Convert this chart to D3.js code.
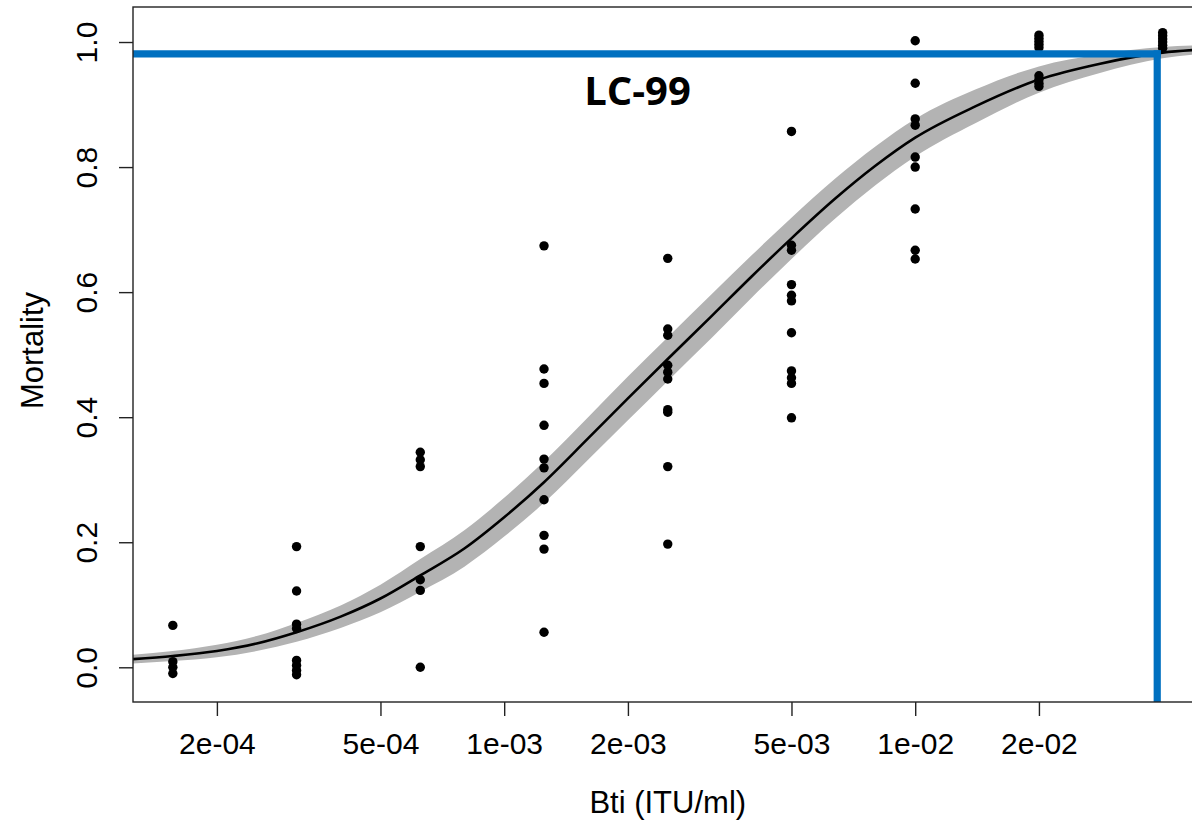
<!DOCTYPE html>
<html>
<head>
<meta charset="utf-8">
<script src="https://cdn.jsdelivr.net/npm/d3@7"></script>
<style>
  html, body { margin: 0; padding: 0; background: #fff; }
  svg { display: block; }
  text { font-family: "Liberation Sans", Arial, sans-serif; fill: #000; }
</style>
</head>
<body>
<svg id="chart" width="1192" height="821"></svg>
<script>
// ---------------- data ----------------
const doses = [0.00015625, 0.0003125, 0.000625, 0.00125, 0.0025, 0.005, 0.01, 0.02, 0.04];
const mortality = [
  [0.067, 0.009, 0.000, -0.010],
  [0.193, 0.122, 0.069, 0.062, 0.011, 0.003, -0.005, -0.012],
  [0.344, 0.332, 0.321, 0.193, 0.140, 0.123, 0.000],
  [0.674, 0.477, 0.454, 0.387, 0.333, 0.319, 0.268, 0.211, 0.189, 0.056],
  [0.654, 0.541, 0.531, 0.483, 0.472, 0.461, 0.412, 0.408, 0.321, 0.197],
  [0.857, 0.675, 0.667, 0.612, 0.595, 0.586, 0.535, 0.474, 0.463, 0.454, 0.399],
  [1.002, 0.934, 0.877, 0.867, 0.816, 0.800, 0.733, 0.667, 0.653],
  [1.011, 1.006, 1.001, 0.996, 0.991, 0.946, 0.940, 0.934, 0.929],
  [1.015, 1.010, 1.005, 1.000, 0.995, 0.990]
];

// fitted dose-response curve and its confidence band
const curveDose  = [1.25e-4, 1.5625e-4, 2e-4, 2.5e-4, 3.125e-4, 4e-4, 5e-4, 6.25e-4, 8e-4, 1e-3, 1.25e-3, 1.6e-3, 2e-3, 2.5e-3, 3.2e-3, 4e-3, 5e-3, 6.4e-3, 8e-3, 1e-2, 1.4e-2, 2e-2, 2.8e-2, 4e-2, 5e-2];
const curveFit   = [0.013, 0.018, 0.026, 0.038, 0.056, 0.081, 0.110, 0.147, 0.190, 0.240, 0.296, 0.366, 0.430, 0.493, 0.562, 0.625, 0.686, 0.750, 0.802, 0.847, 0.897, 0.940, 0.965, 0.983, 0.988];
const bandLower  = [0.006, 0.010, 0.016, 0.026, 0.041, 0.063, 0.088, 0.121, 0.161, 0.209, 0.263, 0.332, 0.395, 0.458, 0.527, 0.591, 0.653, 0.718, 0.771, 0.817, 0.870, 0.919, 0.950, 0.974, 0.981];
const bandUpper  = [0.020, 0.026, 0.036, 0.050, 0.071, 0.099, 0.132, 0.173, 0.219, 0.271, 0.329, 0.400, 0.465, 0.528, 0.597, 0.659, 0.719, 0.782, 0.833, 0.877, 0.924, 0.961, 0.980, 0.992, 0.995];

// LC-99 reference lines
const lcDose = 0.0388;
const lcLevel = 0.981;
const lcLabel = "LC-99";

// axes
const xTickValues = [2e-4, 5e-4, 1e-3, 2e-3, 5e-3, 1e-2, 2e-2];
const xTickLabels = ["2e-04", "5e-04", "1e-03", "2e-03", "5e-03", "1e-02", "2e-02"];
const yTickValues = [0, 0.2, 0.4, 0.6, 0.8, 1.0];
const yTickLabels = ["0.0", "0.2", "0.4", "0.6", "0.8", "1.0"];
const xTitle = "Bti (ITU/ml)";
const yTitle = "Mortality";

// ---------------- layout ----------------
const svg = d3.select("#chart");
const plot = { left: 133, right: 1202.5, top: 7, bottom: 702 };
const TICK_FONT = 30;
const TITLE_FONT = 31;

const x = d3.scaleLog().domain([1.25e-4, 0.05]).range([plot.left, plot.right]);
const y = d3.scaleLinear().domain([-0.0555, 1.056]).range([plot.bottom, plot.top]);

svg.append("defs").append("clipPath").attr("id", "plotclip")
  .append("rect").attr("x", plot.left).attr("y", plot.top)
  .attr("width", plot.right - plot.left).attr("height", plot.bottom - plot.top);

const g = svg.append("g").attr("clip-path", "url(#plotclip)");

// confidence band
const bandData = curveDose.map((d, i) => ({ d, lo: bandLower[i], hi: bandUpper[i] }));
g.append("path")
  .datum(bandData)
  .attr("fill", "#b3b3b3")
  .attr("d", d3.area().curve(d3.curveMonotoneX)
    .x(p => x(p.d)).y0(p => y(p.lo)).y1(p => y(p.hi)));

// fitted curve
const fitData = curveDose.map((d, i) => ({ d, v: curveFit[i] }));
g.append("path")
  .datum(fitData)
  .attr("fill", "none")
  .attr("stroke", "#000")
  .attr("stroke-width", 2.6)
  .attr("d", d3.line().curve(d3.curveMonotoneX).x(p => x(p.d)).y(p => y(p.v)));

// observations
const pts = [];
doses.forEach((d, i) => mortality[i].forEach(v => pts.push({ d, v })));
g.selectAll("circle.obs").data(pts).enter().append("circle")
  .attr("class", "obs")
  .attr("cx", p => x(p.d)).attr("cy", p => y(p.v)).attr("r", 4.7)
  .attr("fill", "#000");

// LC-99 lines
const blue = "#0070c0";
g.append("line")
  .attr("x1", plot.left).attr("x2", x(lcDose) + 3.6)
  .attr("y1", y(lcLevel)).attr("y2", y(lcLevel))
  .attr("stroke", blue).attr("stroke-width", 7.2);
g.append("line")
  .attr("x1", x(lcDose)).attr("x2", x(lcDose))
  .attr("y1", y(lcLevel) - 3.6).attr("y2", plot.bottom)
  .attr("stroke", blue).attr("stroke-width", 7.2);

svg.append("text")
  .attr("x", 637.5).attr("y", 105)
  .attr("text-anchor", "middle")
  .style("font-family", "'Open Sans', 'Noto Sans', sans-serif")
  .style("font-weight", "700")
  .style("font-size", "40px")
  .text(lcLabel);

// frame
svg.append("rect")
  .attr("x", plot.left).attr("y", plot.top)
  .attr("width", plot.right - plot.left).attr("height", plot.bottom - plot.top)
  .attr("fill", "none").attr("stroke", "#222").attr("stroke-width", 1.4);

// x axis
const xAxis = svg.append("g")
  .attr("transform", `translate(0,${plot.bottom})`)
  .call(d3.axisBottom(x).tickValues(xTickValues)
    .tickFormat((d, i) => xTickLabels[i]).tickSize(14).tickSizeOuter(0));
xAxis.select(".domain").remove();
xAxis.selectAll(".tick line").attr("stroke", "#222").attr("stroke-width", 1.4);
xAxis.selectAll(".tick text")
  .attr("y", 52).attr("dy", "0")
  .style("font-size", TICK_FONT + "px")
  .style("font-family", "'Liberation Sans', Arial, sans-serif")
  .attr("fill", "#000");

// y axis
const yAxis = svg.append("g")
  .attr("transform", `translate(${plot.left},0)`)
  .call(d3.axisLeft(y).tickValues(yTickValues)
    .tickFormat((d, i) => yTickLabels[i]).tickSize(14).tickSizeOuter(0));
yAxis.select(".domain").remove();
yAxis.selectAll(".tick line").attr("stroke", "#222").attr("stroke-width", 1.4);
yAxis.selectAll(".tick text")
  .attr("x", 0).attr("dy", "0")
  .attr("text-anchor", "middle")
  .attr("transform", "translate(-36,0) rotate(-90)")
  .style("font-size", TICK_FONT + "px")
  .style("font-family", "'Liberation Sans', Arial, sans-serif")
  .attr("fill", "#000");

// titles
svg.append("text")
  .attr("x", (plot.left + plot.right) / 2).attr("y", 813)
  .attr("text-anchor", "middle")
  .style("font-size", TITLE_FONT + "px")
  .text(xTitle);
svg.append("text")
  .attr("transform", `translate(43,${(plot.top + plot.bottom) / 2 - 4}) rotate(-90)`)
  .attr("text-anchor", "middle")
  .style("font-size", TITLE_FONT + "px")
  .text(yTitle);
</script>
</body>
</html>
